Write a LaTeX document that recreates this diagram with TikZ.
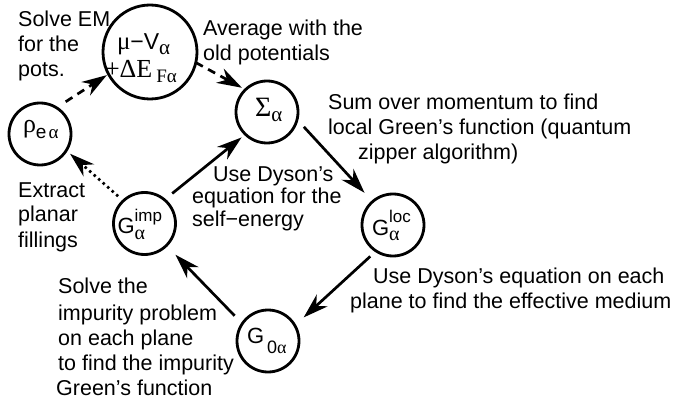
\documentclass[tikz,border=0pt]{standalone}
\usepackage{fontspec}
\setmainfont{Liberation Sans}
\newfontfamily\grk{Liberation Serif}
\usetikzlibrary{arrows.meta}
\newcommand{\fs}[1]{\fontsize{#1}{#1}\selectfont}
\newcommand{\putat}[3]{\makebox[0pt][l]{\smash{\hspace*{#1}\raisebox{#2}{#3}}}}
\begin{document}
\begin{tikzpicture}[x=1pt,y=-1pt,
  state/.style={circle,draw,line width=2.8pt,minimum size=62pt,inner sep=0pt,outer sep=0pt},
  bigstate/.style={state,minimum size=94pt},
  txt/.style={anchor=base west,inner sep=0pt,font=\fs{21.5}},
  flow/.style={line width=2.7pt,-{Stealth[length=25pt,width=16pt,inset=8pt]}},
  dsh/.style={flow,dash pattern=on 8pt off 6pt},
  dotted flow/.style={flow,dash pattern=on 2.5pt off 3.5pt},
]
\useasboundingbox (0,0) rectangle (675,401);
% states
\node[state] (rho) at (40,134) {\putat{-17pt}{1pt}{{\grk\fs{26}ρ}\raisebox{-6pt}{\fs{19}e\kern2pt{\grk α}}}};
\node[bigstate] (mu) at (150,52) {\putat{-33pt}{2pt}{{\grk\fs{25}μ}\fs{23}−V\raisebox{-5pt}{\grk\fs{21}α}}\putat{-45pt}{-26pt}{\grk\fs{26}+ΔE\raisebox{-5pt}{\fs{19}\kern4pt Fα}}};
\node[state] (sig) at (267,112) {\putat{-12pt}{-5pt}{{\grk\fs{28}Σ}\raisebox{-5pt}{\grk\fs{21}α}}};
\node[state] (gimp) at (144.5,223.5) {\putat{-27pt}{-10pt}{\fs{22}G\rlap{\raisebox{12pt}{\fs{17}imp}}\raisebox{-6pt}{\grk\fs{20}α}}};
\node[state] (gloc) at (393,225) {\putat{-21pt}{-10pt}{\fs{22}G\rlap{\raisebox{12pt}{\fs{17}loc}}\raisebox{-6pt}{\grk\fs{20}α}}};
\node[state] (gzero) at (268,341) {\putat{-21pt}{-2pt}{\fs{22}G\raisebox{-10pt}{\fs{18}\kern3pt 0{\grk α}}}};
% connectors
\draw[dsh,shorten <=11pt,shorten >=2pt] (rho.58) -- (mu.208);
\draw[dsh,shorten >=4pt] (mu.347) -- (sig.134);
\draw[flow,shorten <=10pt,shorten >=5pt] (gimp.50) -- (sig.226);
\draw[flow,shorten <=10pt,shorten >=12pt] (sig.346) -- (gloc.131);
\draw[flow,shorten <=8pt,shorten >=12pt] (gloc.237) -- (gzero.30);
\draw[flow,shorten <=11pt,shorten >=13pt] (gzero.146) -- (gimp.315);
\draw[dotted flow,shorten <=7pt,shorten >=5pt] (gimp.133) -- (rho.328);
% texts
\node[txt] (t1a) at (18,27) {Solve EM};
\node[txt] (t1b) at (18,52) {for the};
\node[txt] (t1c) at (18,77) {pots.};
\node[txt] (t2a) at (203,36) {Average with the};
\node[txt] (t2b) at (203,61) {old potentials};
\node[txt] (t3a) at (328,110) {Sum over momentum to find};
\node[txt] (t3b) at (328,135) {local Green’s function (quantum};
\node[txt] (t3c) at (358,160) {zipper algorithm)};
\node[txt] (t4a) at (213,182) {Use Dyson’s};
\node[txt] (t4b) at (192,204) {equation for the};
\node[txt] (t4c) at (192,226) {self−energy};
\node[txt] (t5a) at (18,197) {Extract};
\node[txt] (t5b) at (18,222) {planar};
\node[txt] (t5c) at (18,247) {fillings};
\node[txt] (t6a) at (373,283) {Use Dyson’s equation on each};
\node[txt] (t6b) at (350,308) {plane to find the effective medium};
\node[txt] (t7a) at (58,293) {Solve the};
\node[txt] (t7b) at (58,320) {impurity problem};
\node[txt] (t7c) at (58,345) {on each plane};
\node[txt] (t7d) at (58,370) {to find the impurity};
\node[txt] (t7e) at (56,395) {Green’s function};
\end{tikzpicture}
\end{document}
